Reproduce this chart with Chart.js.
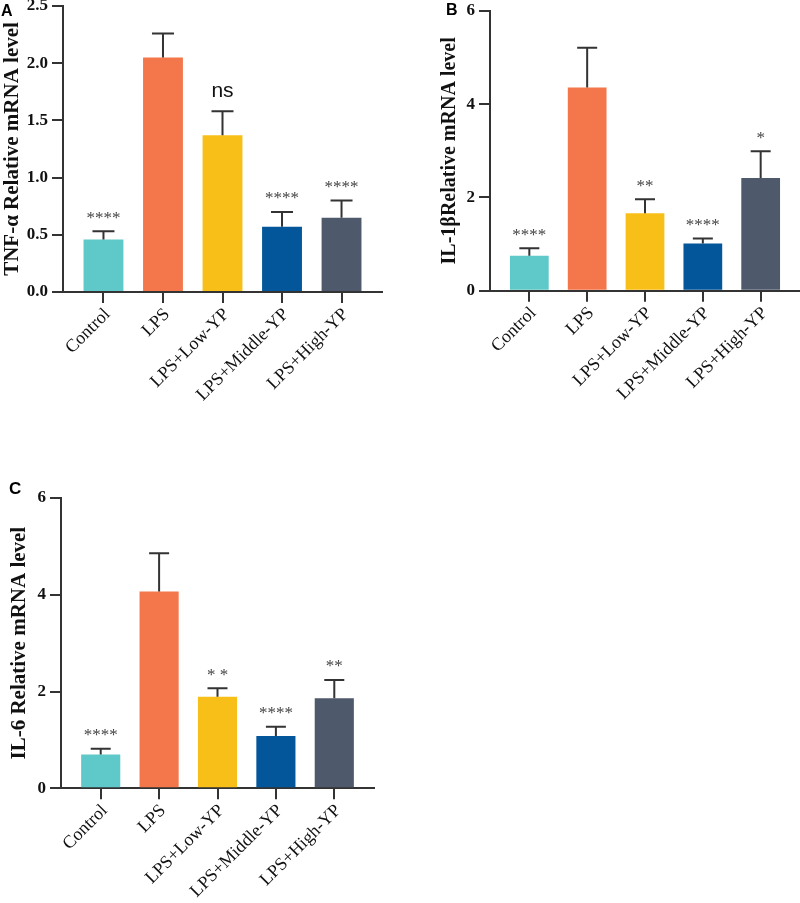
<!DOCTYPE html>
<html>
<head>
<meta charset="utf-8">
<script src="https://cdn.jsdelivr.net/npm/chart.js@4.4.1/dist/chart.umd.min.js"></script>
<style>
  html, body { margin: 0; padding: 0; background: #fff; }
  #page { position: relative; width: 800px; height: 903px; overflow: hidden; background: #fff; }
  canvas { position: absolute; }
  .tag { position: absolute; font-family: "Liberation Sans", Arial, sans-serif; font-weight: bold; color: #000; line-height: 1; }
</style>
</head>
<body>
<div id="page">
  <canvas id="chartA" width="400" height="460" style="left:0px;top:-20px"></canvas>
  <canvas id="chartB" width="400" height="460" style="left:400px;top:-20px"></canvas>
  <canvas id="chartC" width="400" height="490" style="left:0px;top:440px"></canvas>
  <div class="tag" style="left:1px;top:3px;font-size:16px">A</div>
  <div class="tag" style="left:446px;top:2px;font-size:16px">B</div>
  <div class="tag" style="left:9px;top:480px;font-size:17px">C</div>
</div>
<script>
// groups on the x axis
const groups = ['Control', 'LPS', 'LPS+Low-YP', 'LPS+Middle-YP', 'LPS+High-YP'];
const barColors = ['#5fc8c9', '#f4774b', '#f8bf19', '#03569a', '#4e596c'];

// TNF-a
const tnfMean = [0.46, 2.05, 1.37, 0.57, 0.65];
const tnfSd = [0.07, 0.21, 0.21, 0.13, 0.15];
const tnfSig = ['****', '', 'ns', '****', '****'];
const tnfTicks = [0, 0.5, 1.0, 1.5, 2.0, 2.5];

// IL-1b
const il1bMean = [0.75, 4.36, 1.66, 1.01, 2.42];
const il1bSd = [0.16, 0.85, 0.30, 0.11, 0.57];
const il1bSig = ['****', '', '**', '****', '*'];
const il1bTicks = [0, 2, 4, 6];

// IL-6
const il6Mean = [0.70, 4.07, 1.89, 1.08, 1.86];
const il6Sd = [0.12, 0.79, 0.18, 0.19, 0.38];
const il6Sig = ['****', '', '* *', '****', '**'];
const il6Ticks = [0, 2, 4, 6];

const axisColor = '#333';

// error bars + significance marks
const errorBarPlugin = {
  id: 'errorBars',
  afterDatasetsDraw(chart, args, opts) {
    const ctx = chart.ctx;
    const xs = chart.scales.x, ys = chart.scales.y;
    ctx.save();
    ctx.strokeStyle = axisColor;
    ctx.lineWidth = 2;
    opts.mean.forEach((m, i) => {
      const x = xs.getPixelForValue(i);
      const y0 = ys.getPixelForValue(m);
      const y1 = ys.getPixelForValue(m + opts.sd[i]);
      ctx.beginPath();
      ctx.moveTo(x, y0);
      ctx.lineTo(x, y1);
      ctx.moveTo(x - opts.cap / 2, y1);
      ctx.lineTo(x + opts.cap / 2, y1);
      ctx.stroke();
      const s = opts.sig[i];
      if (!s) return;
      ctx.textAlign = 'center';
      ctx.textBaseline = 'middle';
      if (s === 'ns') {
        ctx.fillStyle = '#111';
        ctx.font = '21px "Liberation Sans"';
        ctx.fillText(s, x, y1 - 20);
      } else {
        ctx.fillStyle = '#444';
        ctx.font = '17px "Liberation Serif"';
        ctx.fillText(s, x, y1 - 13);
      }
    });
    ctx.restore();
  }
};

function makePanel(id, mean, sd, sig, yTicks, title, p) {
  new Chart(document.getElementById(id), {
    type: 'bar',
    data: {
      datasets: [{
        data: mean.map((v, i) => ({ x: i, y: v })),
        backgroundColor: barColors,
        borderWidth: 0,
        barPercentage: 0.67,
        categoryPercentage: 1
      }]
    },
    options: {
      responsive: false,
      animation: false,
      layout: { padding: p.pad },
      plugins: {
        legend: { display: false },
        tooltip: { enabled: false },
        errorBars: { mean: mean, sd: sd, sig: sig, cap: p.cap }
      },
      scales: {
        x: {
          type: 'linear',
          min: -0.68,
          max: 4.68,
          offset: false,
          afterBuildTicks: s => { s.ticks = groups.map((g, i) => ({ value: i })); },
          afterFit: s => { s.height = 130; },
          grid: { display: true, offset: false, drawOnChartArea: false, drawTicks: true, tickLength: 11, color: axisColor, lineWidth: 2 },
          border: { display: true, color: axisColor, width: 2 },
          ticks: {
            minRotation: 45,
            maxRotation: 45,
            padding: 1,
            labelOffset: 4,
            color: '#111',
            font: { family: 'Liberation Serif', size: 18 },
            callback: v => groups[v]
          }
        },
        y: {
          min: 0,
          max: yTicks[yTicks.length - 1],
          afterBuildTicks: s => { s.ticks = yTicks.map(v => ({ value: v })); },
          afterFit: s => { s.width = p.yWidth; },
          grid: { drawOnChartArea: false, drawTicks: true, tickLength: 11, color: axisColor, lineWidth: 2 },
          border: { display: true, color: axisColor, width: 2 },
          ticks: {
            padding: 4,
            color: '#111',
            font: { family: 'Liberation Serif', size: 17, weight: 'bold' },
            callback: v => p.decimals ? v.toFixed(1) : String(v)
          },
          title: {
            display: true,
            text: title,
            color: '#111',
            padding: { top: p.titlePad, bottom: 0 },
            font: { family: 'Liberation Serif', size: p.titleSize, weight: 'bold' }
          }
        }
      }
    },
    plugins: [errorBarPlugin]
  });
}

makePanel('chartA', tnfMean, tnfSd, tnfSig, tnfTicks, 'TNF-\u03b1 Relative mRNA level',
  { pad: { left: 0, top: 26, right: 18, bottom: 18 }, yWidth: 63, titlePad: 0, titleSize: 21, cap: 22, decimals: true });
makePanel('chartB', il1bMean, il1bSd, il1bSig, il1bTicks, 'IL-1\u03b2Relative mRNA level',
  { pad: { left: 0, top: 31, right: 0, bottom: 19.3 }, yWidth: 90, titlePad: 38, titleSize: 20, cap: 20, decimals: false });
makePanel('chartC', il6Mean, il6Sd, il6Sig, il6Ticks, 'IL-6 Relative mRNA level',
  { pad: { left: 0, top: 58, right: 26, bottom: 11.7 }, yWidth: 61, titlePad: 7, titleSize: 21, cap: 20, decimals: false });
</script>
</body>
</html>
